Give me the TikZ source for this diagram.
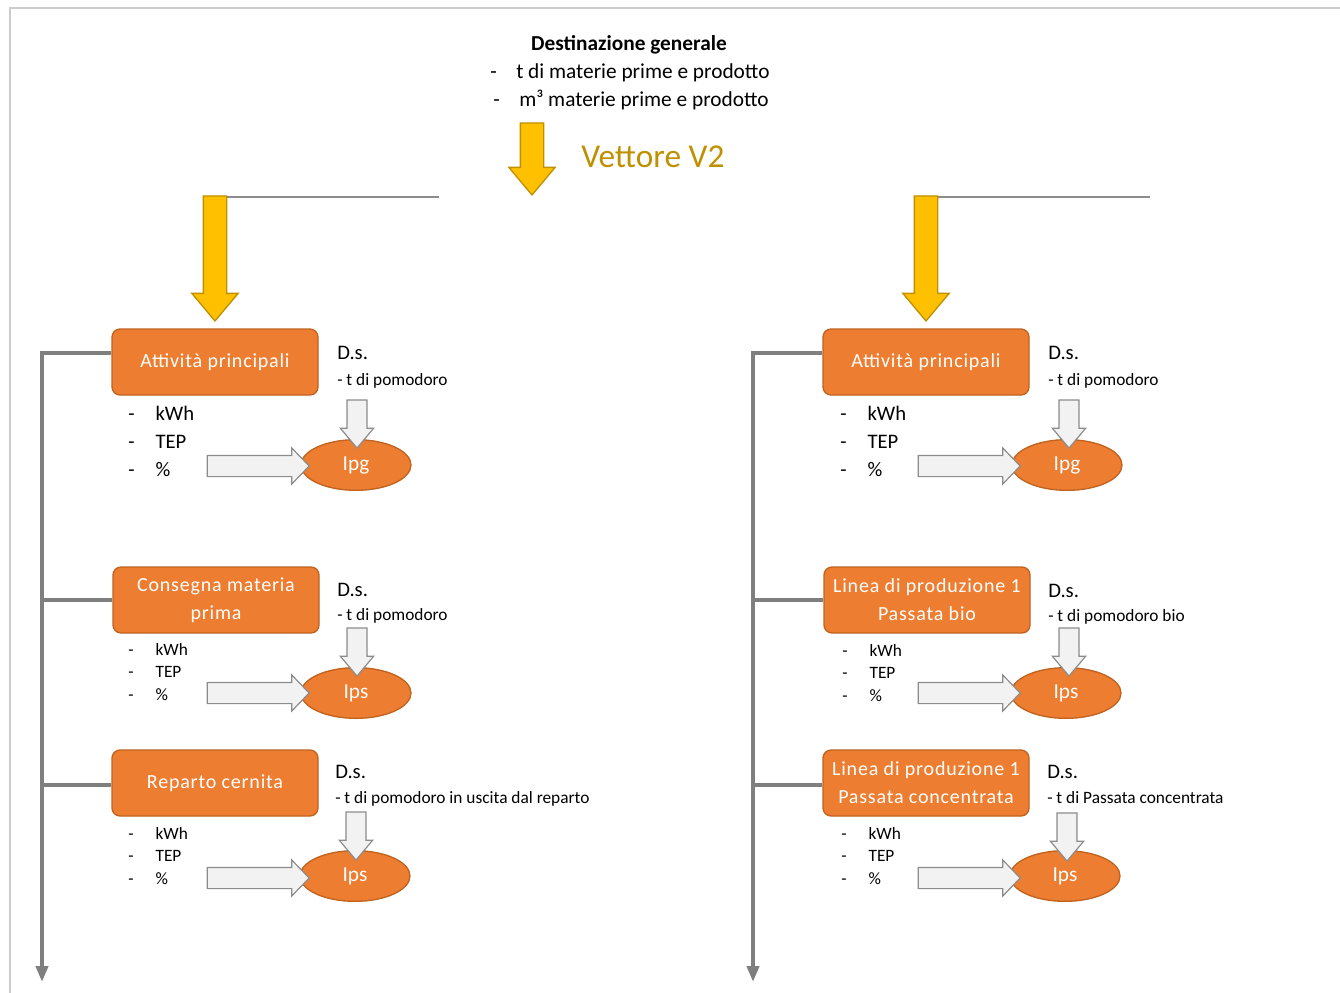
\documentclass[tikz,border=0pt]{standalone}
\usepackage{fontspec}
\setmainfont{Carlito}
\newfontfamily\boxfont[LetterSpace=4]{Carlito}
\usetikzlibrary{shapes.arrows,shapes.geometric,arrows.meta}

\definecolor{orangebox}{HTML}{ED7D31}
\definecolor{orangeline}{HTML}{C0631F}
\definecolor{gold}{HTML}{FFC000}
\definecolor{goldline}{HTML}{BF9000}
\definecolor{treegray}{HTML}{7F7F7F}
\definecolor{lightfill}{HTML}{F2F2F2}
\definecolor{arrowline}{HTML}{8C8C8C}
\definecolor{framegray}{HTML}{CCCCCC}

\newcommand{\unita}[2]{\fontsize{#1}{#2}\selectfont
  \begin{tabular}[t]{@{}p{20.5pt}@{}l@{}}-&kWh\\-&TEP\\-&\%\end{tabular}}

\tikzset{
  fase/.style={draw=orangeline, line width=1pt, fill=orangebox, rounded corners=6pt,
    minimum width=154.5pt, minimum height=49.5pt, text=white, align=center,
    font=\boxfont\fontsize{15}{21}\selectfont},
  indice/.style={draw=orangeline, line width=1pt, fill=orangebox, ellipse,
    minimum width=82.5pt, minimum height=38pt, text=white,
    font=\fontsize{16}{19}\selectfont},
  vettore/.style={single arrow, draw=goldline, line width=1pt, fill=gold, rotate=-90,
    inner xsep=0pt, inner ysep=8.25pt, single arrow head extend=8.6pt,
    single arrow tip angle=80, anchor=tip},
  freccia/.style={single arrow, draw=arrowline, line width=0.9pt, fill=lightfill,
    inner xsep=0pt, inner ysep=7.5pt, single arrow head extend=5.6pt,
    single arrow tip angle=92, minimum height=76.5pt, anchor=tip},
  discesa/.style={freccia, rotate=-90, inner ysep=7.1pt, single arrow head extend=4.9pt,
    single arrow tip angle=80, minimum height=36pt},
  albero/.style={draw=treegray, line width=3pt},
  linea/.style={draw=arrowline, line width=1.1pt},
  ds/.style={anchor=base west, font=\fontsize{15.5}{18}\selectfont},
  dsriga/.style={anchor=base west, font=\fontsize{13}{16}\selectfont},
  lista/.style={anchor=base west}
}

\begin{document}
\begin{tikzpicture}[x=0.75pt,y=-0.75pt,every node/.style={inner sep=0pt}]
  \useasboundingbox (0,0) rectangle (1340,993);

  % cornice
  \draw[framegray, line width=1.2pt] (1340,8) -- (10,8) -- (10,993);

  % intestazione
  \node[anchor=base, font=\bfseries\fontsize{16}{19}\selectfont] (dest) at (629,50)
       {Destinazione generale};
  \node[anchor=base west, font=\fontsize{16}{19}\selectfont] (voce1) at (490,78)
       {\makebox[19.5pt][l]{-}t di materie prime e prodotto};
  \node[anchor=base west, font=\fontsize{16}{19}\selectfont] (voce2) at (493,106)
       {\makebox[19.5pt][l]{-}m³ materie prime e prodotto};
  \node[anchor=base west, text=goldline, font=\fontsize{25}{30}\selectfont] (vlabel)
       at (581,167) {Vettore V2};

  \node[vettore, minimum height=54pt] (v2) at (532,196) {};

  \coordinate (ca) at (215,197);
  \coordinate (cb) at (926,197);
  \draw[linea] (ca) -- (ca -| 439,0);
  \draw[linea] (cb) -- (cb -| 1150,0);
  \node[vettore, minimum height=93.75pt] (va) at (215,322) {};
  \node[vettore, minimum height=93.75pt] (vb) at (926,322) {};

  % colonna sinistra
  \node[fase] (att1) at (215,362) {Attività principali};
  \node[fase] (cons) at (216,600) {Consegna materia\\prima};
  \node[fase] (cern) at (215,783) {Reparto cernita};

  \coordinate (lt) at (42,353);
  \coordinate (lb) at (42,982);
  \draw[albero, -{Triangle[length=12pt,width=9pt]}] (att1.west |- lt) -| (lb);
  \draw[albero] (cons.west) -- (cons.west -| lb);
  \draw[albero] (cern.west |- 0,785) -- (lb |- 0,785);

  \node[ds] (ds1) at (337,359) {D.s.};
  \node[dsriga] (dr1) at (337,385) {- t di pomodoro};
  \node[ds] (ds2) at (337,596) {D.s.};
  \node[dsriga] (dr2) at (337,620) {- t di pomodoro};
  \node[ds] (ds3) at (335,778) {D.s.};
  \node[dsriga] (dr3) at (335,803) {- t di pomodoro in uscita dal reparto};

  \node[lista] (u1) at (128,420) {\unita{15.5}{21}};
  \node[lista] (u2) at (128,655) {\unita{13}{17}};
  \node[lista] (u3) at (128,839) {\unita{13}{17}};

  \node[indice] (ipg1) at (356,465) {Ipg};
  \node[indice] (ips1) at (356,693) {Ips};
  \node[indice] (ips2) at (355,876) {Ips};

  \node[freccia] (f1) at (310,466) {};
  \node[freccia] (f2) at (310,693) {};
  \node[freccia] (f3) at (310,878) {};
  \node[discesa] (d1) at (357,449) {};
  \node[discesa] (d2) at (357,677) {};
  \node[discesa] (d3) at (356,861) {};

  % colonna destra
  \node[fase] (att2) at (926,362) {Attività principali};
  \node[fase] (lin1) at (927,600) {Linea di produzione 1\\Passata bio};
  \node[fase] (lin2) at (926,783) {Linea di produzione 1\\Passata concentrata};

  \coordinate (rt) at (753,353);
  \coordinate (rb) at (753,982);
  \draw[albero, -{Triangle[length=12pt,width=9pt]}] (att2.west |- rt) -| (rb);
  \draw[albero] (lin1.west) -- (lin1.west -| rb);
  \draw[albero] (lin2.west |- 0,785) -- (rb |- 0,785);

  \node[ds] (ds4) at (1048,359) {D.s.};
  \node[dsriga] (dr4) at (1048,385) {- t di pomodoro};
  \node[ds] (ds5) at (1048,597) {D.s.};
  \node[dsriga] (dr5) at (1048,621) {- t di pomodoro bio};
  \node[ds] (ds6) at (1047,778) {D.s.};
  \node[dsriga] (dr6) at (1047,803) {- t di Passata concentrata};

  \node[lista] (u4) at (840,420) {\unita{15.5}{21}};
  \node[lista] (u5) at (842,656) {\unita{13}{17}};
  \node[lista] (u6) at (841,839) {\unita{13}{17}};

  \node[indice] (ipg2) at (1067,465) {Ipg};
  \node[indice] (ips3) at (1066,693) {Ips};
  \node[indice] (ips4) at (1065,876) {Ips};

  \node[freccia] (f4) at (1021,466) {};
  \node[freccia] (f5) at (1021,693) {};
  \node[freccia] (f6) at (1021,878) {};
  \node[discesa] (d4) at (1069,449) {};
  \node[discesa] (d5) at (1069,677) {};
  \node[discesa] (d6) at (1067,862) {};
\end{tikzpicture}
\end{document}
